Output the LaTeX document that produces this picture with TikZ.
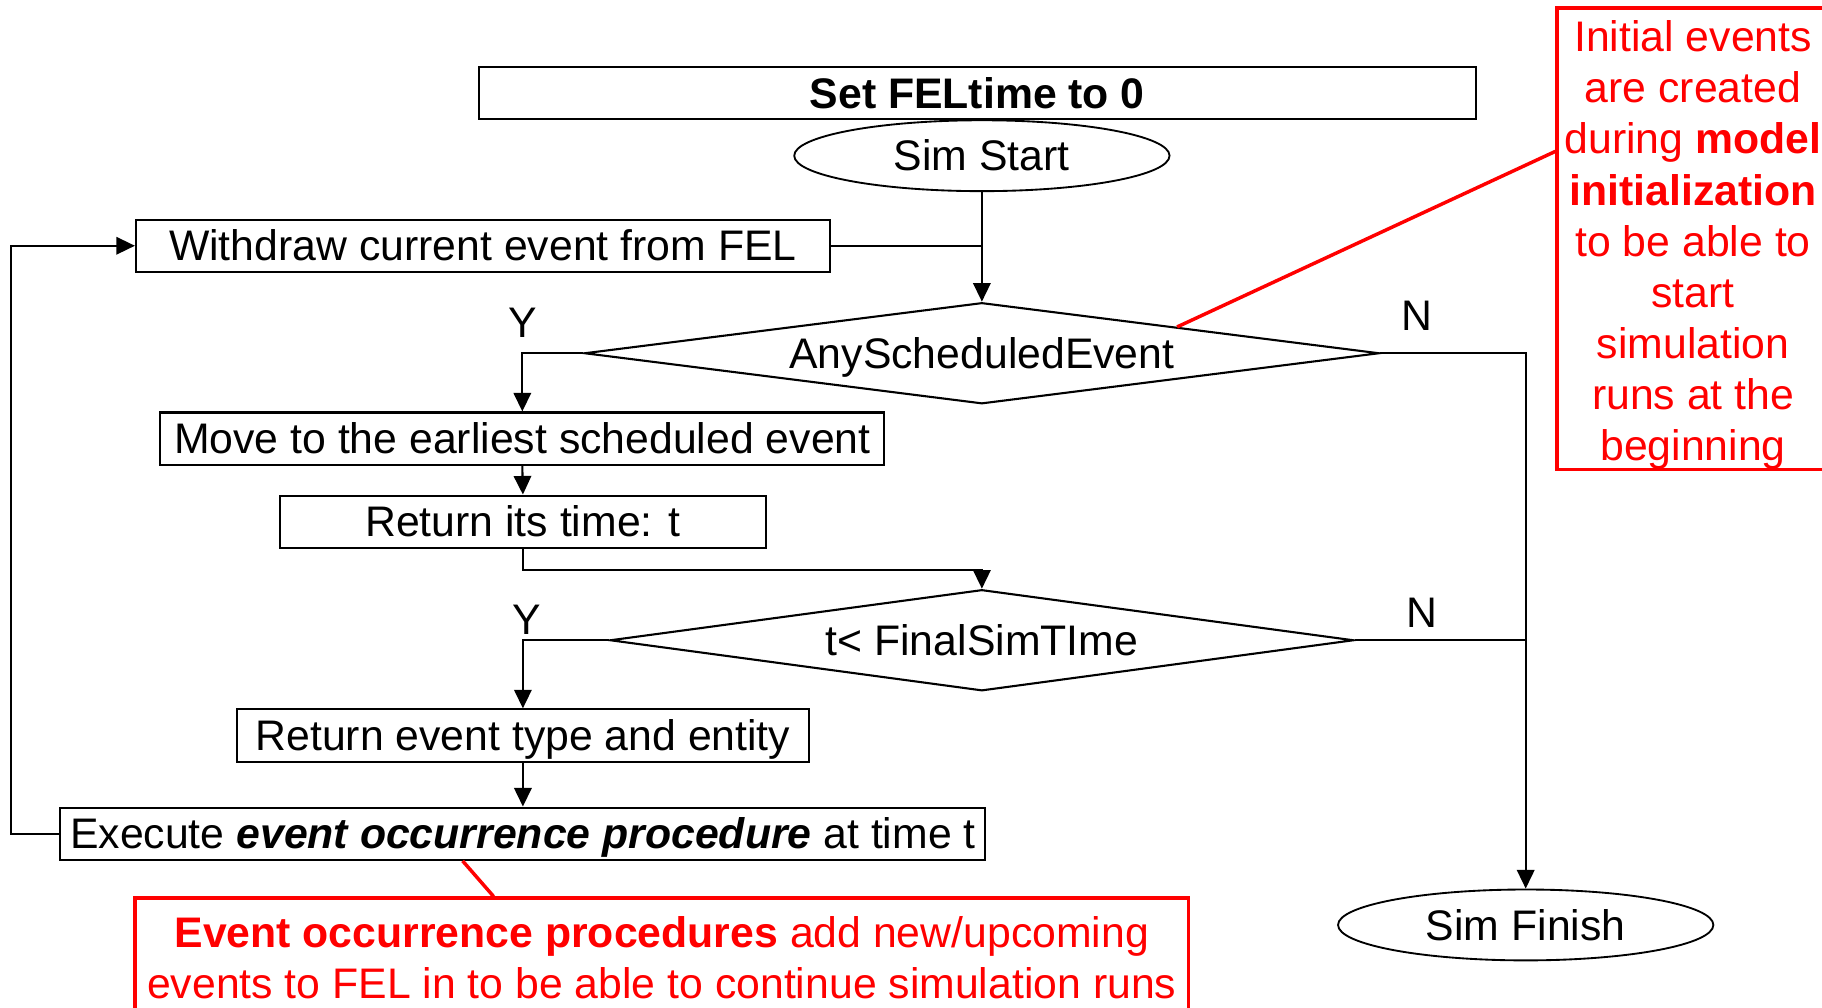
\documentclass[tikz,border=0pt]{standalone}
\usepackage{fontspec}
\setmainfont{Liberation Sans}
\usetikzlibrary{shapes.geometric,arrows.meta,calc}
\definecolor{noteRed}{RGB}{255,0,0}
\begin{document}
\begin{tikzpicture}[x=1pt,y=-1pt,
  every node/.style={font=\fontsize{36.8}{44}\selectfont},
  procbox/.style={draw, line width=1.8pt, rectangle, inner sep=0pt, minimum height=45pt, text height=26pt, text depth=0pt},
  decbox/.style={draw, line width=1.8pt, diamond, inner sep=0pt, aspect=7.5, minimum height=87pt, text height=26pt, text depth=0pt},
  termbox/.style={draw, line width=1.6pt, ellipse, inner sep=0pt, minimum width=323pt, minimum height=61pt, text height=26pt, text depth=0pt},
  flow/.style={line width=1.8pt, -{Triangle[length=16pt,width=15pt]}},
  joinline/.style={line width=1.8pt},
  notebox/.style={draw=noteRed, line width=3pt, rectangle, inner sep=0pt},
  notetext/.style={text=noteRed, align=center, inner sep=0pt},
  redline/.style={draw=noteRed, line width=3pt},
  lbl/.style={inner sep=0pt}
]
\useasboundingbox (0,0) rectangle (1568,867);

% main flow nodes
\node[procbox, minimum width=858pt] (setfel) at (841,80) {\textbf{Set FELtime to 0}};
\node[termbox] (simstart) at (845,134) {Sim Start};
\node[procbox, minimum width=597pt] (withdraw) at (415.5,211.5) {Withdraw current event from FEL};
\node[decbox, minimum width=684pt] (d1) at (845,304) {AnyScheduledEvent};
\node[procbox, minimum width=623pt] (move) at (449.5,377.5) {Move to the earliest scheduled event};
\node[procbox, minimum width=418pt] (rettime) at (450,449) {Return its time: t};
\node[decbox, minimum width=640pt] (d2) at (845,551) {t< FinalSimTIme};
\node[procbox, minimum width=492pt] (rettype) at (450,633) {Return event type and entity};
\node[procbox, minimum width=796pt] (exec) at (450,717.5) {Execute \textbf{\textit{event occurrence procedure}} at time t};
\node[termbox] (simfinish) at (1313,796) {Sim Finish};

% branch labels
\node[lbl] (y1) at (450,278) {Y};
\node[lbl] (n1) at (1219,272) {N};
\node[lbl] (y2) at (453,533) {Y};
\node[lbl] (n2) at (1224,527) {N};

% connectors
\draw[flow] (simstart.south) -- (d1.north);
\draw[joinline] (withdraw.east) -- (withdraw.east -| simstart.south);
\draw[flow] (d1.west) -| (move.north);
\draw[flow] (d1.east) -| (simfinish.north);
\draw[flow] (move.south) -- (rettime.north);
\draw[flow] (rettime.south) -- ++(0,18) -| (d2.north);
\draw[flow] (d2.west) -| (rettype.north);
\draw[joinline] (d2.east) -- (d2.east -| simfinish.north);
\draw[flow] (rettype.south) -- (exec.north);
\draw[flow] (exec.west) -- ++(-42,0) |- (withdraw.west);

% notes
\node[notebox, minimum width=235pt, minimum height=397pt] (note1) at (1457.5,205.5) {};
\node[notetext] (note1t) at (1457,211) {Initial events\\are created\\during \textbf{model}\\\textbf{initialization}\\to be able to\\start\\simulation\\runs at the\\beginning};
\node[notebox, minimum width=907pt, minimum height=102pt] (note2) at (569.5,824) {};
\node[notetext] (note2t) at (569.5,824) {\textbf{Event occurrence procedures} add new/upcoming\\events to FEL in to be able to continue simulation runs};

\draw[redline] ($(note1.north west)!0.312!(note1.south west)$) -- ($(d1.north)!0.49!(d1.east)$);
\draw[redline] ($(exec.south west)!0.435!(exec.south east)$) -- ($(note2.north west)!0.341!(note2.north east)$);
\end{tikzpicture}
\end{document}
